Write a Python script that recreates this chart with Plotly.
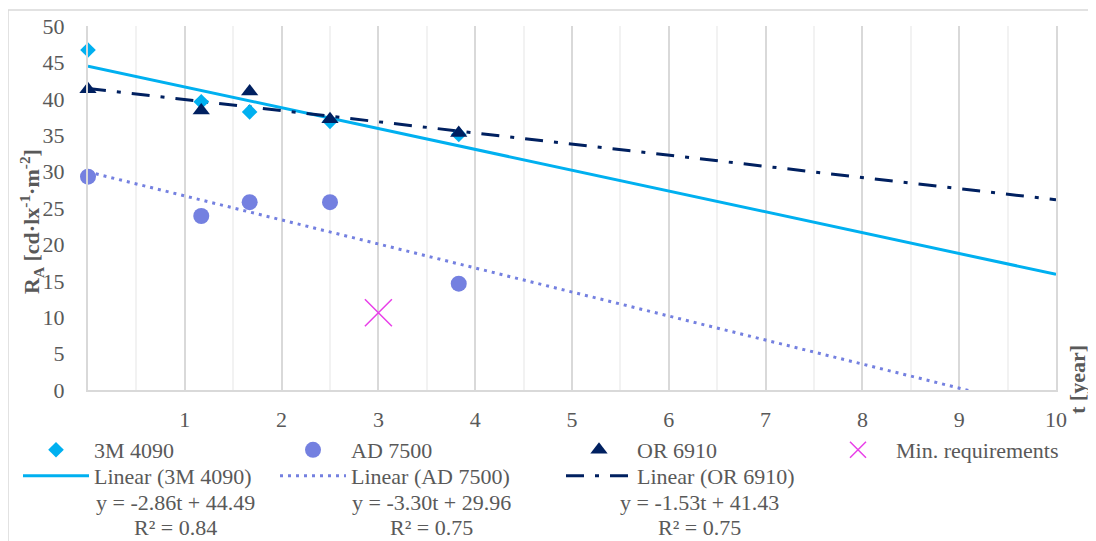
import plotly.graph_objects as go

# ---------------- data ----------------
t_vals = [0, 1.17, 1.67, 2.5, 3.83]
ra_3m = [46.7, 39.6, 38.2, 36.9, 35.1]
ra_ad = [29.3, 23.9, 25.8, 25.8, 14.6]
ra_or = [41.3, 38.4, 41.0, 37.2, 35.3]
min_t = [3]
min_ra = [10.6]

series_names = ["3M 4090", "AD 7500", "OR 6910"]
slopes = [-2.86, -3.30, -1.53]
intercepts = [44.49, 29.96, 41.43]
r_squared = [0.84, 0.75, 0.75]
trend_t = [0, 10]

x_tickvals = list(range(0, 11))
x_ticktext = [""] + [str(v) for v in range(1, 11)]
y_tickvals = list(range(0, 51, 5))

# ---------------- style ----------------
FONT = "Liberation Serif"
FS = 22
GREY = "#595959"
c3m, cad, cor, cmin = "#00B0F0", "#7480E0", "#002060", "#E83FE8"

# page body has an 8px margin; figure is drawn from (8, 8)
OFF = 8
W, H = 1096 - OFF, 541 - OFF
# plot area in screen pixels
PX0, PX1, PY0, PY1 = 88, 1056, 26, 390
L, R, T, B = PX0 - OFF, W + OFF - PX1, PY0 - OFF, H + OFF - PY1
PW, PH = PX1 - PX0, PY1 - PY0


def px_x(p):
    return (p - PX0) / PW


def px_y(p):
    return (PY1 - p) / PH


fig = go.Figure()

# trend lines
dashes = ["solid", "3px,5px", "18px,11px,4px,11px"]
colors = [c3m, cad, cor]
for i in range(3):
    fig.add_trace(go.Scatter(
        x=trend_t, y=[slopes[i] * t + intercepts[i] for t in trend_t],
        mode="lines", name=f"Linear ({series_names[i]})",
        line=dict(color=colors[i], width=3, dash=dashes[i]),
        legend=f"legend{6 + i}", hoverinfo="skip"))

# data markers
fig.add_trace(go.Scatter(x=t_vals, y=ra_3m, mode="markers", name=series_names[0],
                         marker=dict(symbol="diamond", size=12, color=c3m),
                         legend="legend2", cliponaxis=False))
fig.add_trace(go.Scatter(x=t_vals, y=ra_ad, mode="markers", name=series_names[1],
                         marker=dict(symbol="circle", size=16, color=cad),
                         legend="legend3", cliponaxis=False))
fig.add_trace(go.Scatter(x=t_vals, y=ra_or, mode="markers", name=series_names[2],
                         marker=dict(symbol="triangle-up", size=15, color=cor),
                         legend="legend4", cliponaxis=False))
fig.add_trace(go.Scatter(x=min_t, y=min_ra, mode="markers", name="Min. requirements",
                         marker=dict(symbol="x-thin", size=27, color=cmin,
                                     line=dict(color=cmin, width=1.5)),
                         legend="legend5", cliponaxis=False))

leg_common = dict(font=dict(family=FONT, size=FS, color=GREY), bgcolor="rgba(0,0,0,0)",
                  orientation="v", xanchor="left", yanchor="middle", itemwidth=66)
text_x = [95, 352, 638, 897]
row_y = [450, 476]
legend_layout = {"showlegend": True}
for k in range(7):
    col = k % 4
    row = k // 4
    legend_layout[f"legend{k + 2}"] = dict(leg_common, x=px_x(text_x[col] - 77),
                                           y=px_y(row_y[row]))

annotations = []
eq_centers = [175, 431, 699]
for i in range(3):
    annotations.append(dict(
        text=f"y = {slopes[i]:.2f}t + {intercepts[i]:.2f}",
        x=px_x(eq_centers[i]), y=px_y(502), xref="paper", yref="paper",
        xanchor="center", yanchor="middle", showarrow=False,
        font=dict(family=FONT, size=FS, color=GREY)))
    annotations.append(dict(
        text=f"R² = {r_squared[i]:.2f}",
        x=px_x(eq_centers[i]), y=px_y(527), xref="paper", yref="paper",
        xanchor="center", yanchor="middle", showarrow=False,
        font=dict(family=FONT, size=FS, color=GREY)))

annotations.append(dict(
    text="<b>R<sub>A</sub> [cd·lx<sup>-1</sup>·m<sup>-2</sup>]</b>",
    x=px_x(31), y=px_y(222), xref="paper", yref="paper", textangle=-90,
    xanchor="center", yanchor="middle", showarrow=False,
    font=dict(family=FONT, size=FS, color=GREY)))
annotations.append(dict(
    text="<b>t [year]</b>", x=px_x(1077), y=px_y(380), xref="paper", yref="paper",
    textangle=-90, xanchor="center", yanchor="middle", showarrow=False,
    font=dict(family=FONT, size=FS, color=GREY)))

fig.update_layout(
    width=W, height=H,
    margin=dict(l=L, r=R, t=T, b=B, autoexpand=False),
    paper_bgcolor="white", plot_bgcolor="white",
    font=dict(family=FONT, size=FS, color=GREY),
    annotations=annotations,
    shapes=[dict(type="rect", xref="paper", yref="paper",
                 x0=px_x(8), x1=px_x(1093), y0=px_y(560), y1=px_y(10),
                 line=dict(color="#D9D9D9", width=1.5), layer="below")],
    xaxis=dict(range=[0, 10], tickvals=x_tickvals, ticktext=x_ticktext,
               showgrid=True, gridcolor="#D9D9D9", gridwidth=2,
               minor=dict(dtick=0.5, tick0=0, showgrid=True, gridcolor="#F2F2F2", gridwidth=1.5),
               zeroline=False, showline=True, linecolor="#D9D9D9", linewidth=2,
               ticks="outside", ticklen=9, tickcolor="rgba(0,0,0,0)",
               tickfont=dict(family=FONT, size=FS, color=GREY)),
    yaxis=dict(range=[0, 50], tickvals=y_tickvals, showgrid=False, zeroline=False,
               showline=True, mirror=True, linecolor="#D9D9D9", linewidth=2,
               ticks="outside", ticklen=17, tickcolor="rgba(0,0,0,0)",
               tickfont=dict(family=FONT, size=FS, color=GREY)),
    **legend_layout,
)

fig.write_html("out.html")
